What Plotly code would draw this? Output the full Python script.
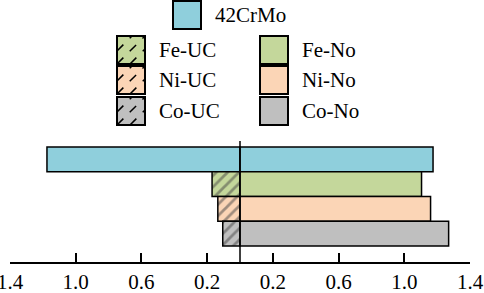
import plotly.graph_objects as go

# ---- data ----
rows = ["42CrMo", "Fe", "Ni", "Co"]
row_pos = [3, 2, 1, 0]
left_names = ["42CrMo", "Fe-UC", "Ni-UC", "Co-UC"]
left_values = [1.175, 0.17, 0.135, 0.105]
right_names = ["42CrMo", "Fe-No", "Ni-No", "Co-No"]
right_values = [1.175, 1.105, 1.16, 1.27]
row_colors = ["#8FCFDC", "#C4D79B", "#FBD5B6", "#BFBFBF"]
left_patterns = ["", "/", "/", "/"]
tick_vals = [-1.4, -1.0, -0.6, -0.2, 0.2, 0.6, 1.0, 1.4]
tick_text = ["1.4", "1.0", "0.6", "0.2", "0.2", "0.6", "1.0", "1.4"]

FONT = "Liberation Serif"

fig = go.Figure()
fig.add_trace(go.Bar(
    y=row_pos, x=[-v for v in left_values], orientation="h", width=1,
    marker=dict(color=row_colors, line=dict(color="black", width=1.5),
                pattern=dict(shape=left_patterns, fgcolor="black", size=8, solidity=0.35)),
    hoverinfo="skip", showlegend=False))
fig.add_trace(go.Bar(
    y=row_pos, x=right_values, orientation="h", width=1,
    marker=dict(color=row_colors, line=dict(color="black", width=1.5)),
    hoverinfo="skip", showlegend=False))

# centre line
fig.add_shape(type="line", xref="x", yref="paper", x0=0, x1=0, y0=0, y1=1,
              line=dict(color="black", width=1.5), layer="above")

# ---- manual legend (pixel layout -> paper coords) ----
L, R, T, B = 10, 470, 141, 262
def px(x):
    return (x - L) / (R - L)
def py(y):
    return (B - y) / (B - T)

def legend_item(x0, y0, name, color, hatched):
    s = 28
    fig.add_shape(type="rect", xref="paper", yref="paper",
                  x0=px(x0), x1=px(x0 + s), y0=py(y0 + s), y1=py(y0),
                  fillcolor=color, line=dict(color="black", width=2))
    if hatched:
        for off in (-13, 0, 13):
            if off < 0:
                xa, ya = x0, y0 + s + off
                xb, yb = x0 + s + off, y0
            else:
                xa, ya = x0 + off, y0 + s
                xb, yb = x0 + s, y0 + off
            fig.add_shape(type="line", xref="paper", yref="paper",
                          x0=px(xa), y0=py(ya), x1=px(xb), y1=py(yb),
                          line=dict(color="black", width=1.5, dash="dash"))
    fig.add_annotation(xref="paper", yref="paper", x=px(x0 + s + 12), y=py(y0 + s / 2),
                       text=name, showarrow=False, xanchor="left", yanchor="middle",
                       font=dict(family=FONT, size=21, color="black"))

legend_item(173, 1, left_names[0], row_colors[0], False)
row_y = [36, 66, 97]
for i in range(1, 4):
    legend_item(117, row_y[i - 1], left_names[i], row_colors[i], True)
    legend_item(260, row_y[i - 1], right_names[i], row_colors[i], False)

fig.update_layout(
    width=484, height=293,
    margin=dict(l=L, r=484 - R, t=T, b=293 - B),
    paper_bgcolor="white", plot_bgcolor="white",
    barmode="overlay", showlegend=False,
    font=dict(family=FONT, size=21, color="black"),
    xaxis=dict(range=[-1.4, 1.4], tickvals=tick_vals, ticktext=tick_text,
               ticks="inside", ticklen=9, tickwidth=1.5, tickcolor="black",
               showline=True, linecolor="black", linewidth=1.5,
               showgrid=False, zeroline=False, automargin=False,
               ticklabeloverflow="allow",
               tickfont=dict(family=FONT, size=21, color="black")),
    yaxis=dict(range=[-1.15, 3.74], visible=False, showgrid=False, zeroline=False),
)

fig.write_html("out.html", config={"displayModeBar": False},
               post_script="document.body.style.margin='0';")
